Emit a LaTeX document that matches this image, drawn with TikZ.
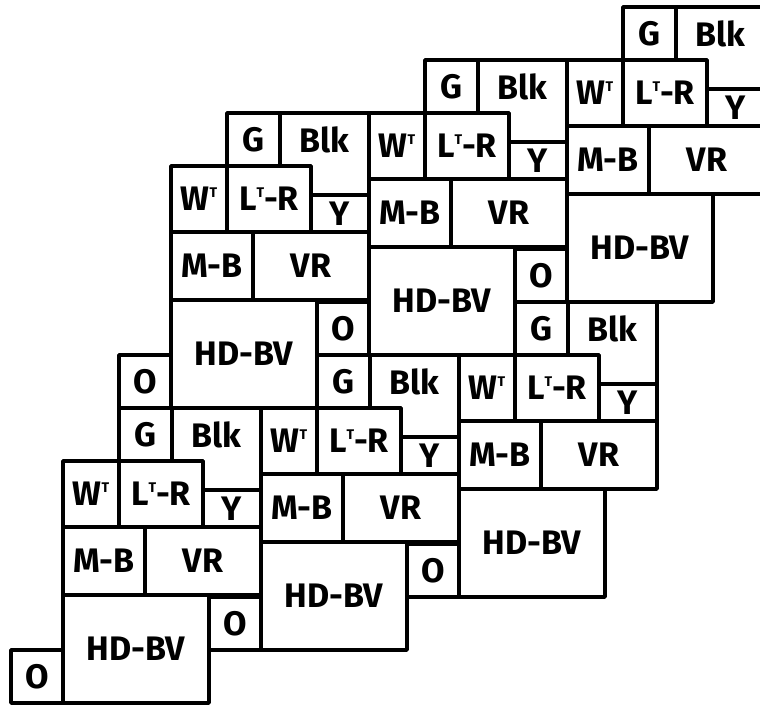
\documentclass[tikz,border=0pt]{standalone}
\usepackage{fontspec}
\setmainfont{Fira Sans}
\newcommand{\tup}{\raisebox{13pt}{\fontsize{14}{14}\selectfont T}}

\begin{document}
\begin{tikzpicture}[x=1pt,y=-1pt,font=\fontsize{34}{36}\selectfont\bfseries,
  cell/.style={draw=black,line width=3.8pt,line join=round},
  lab/.style={inner sep=0pt}]
\useasboundingbox (0,0) rectangle (760,706);
\clip (0,0) rectangle (760,706);
% one block of the pattern, placed at the top-left corner of its W box
\foreach \u/\i/\j in {1/0/0,2/1/0,3/2/0,4/1/1,5/2/1,6/3/1}{
  \begin{scope}[shift={(567-198*\i+90*\j,60+53*\i+242*\j)}]
  \draw[cell] (109,-53) -- (198,-53) -- (198,29) -- (140,29) -- (140,0) -- (109,0) -- cycle;
  \node[lab] (u\u-blk) at (153.5,-26) {Blk};
  \foreach \b/\xa/\ya/\xb/\yb/\tx/\ty/\lab in {
      g/56/-53/109/0/82.5/-26/G,
      w/0/0/56/66/28/33/{W\tup},
      ltr/56/0/140/66/98/33/{L\tup-R},
      y/140/29/198/66/169/47.5/Y,
      mb/0/66/82/134/41/100/M-B,
      vr/82/66/198/134/140/100/VR,
      hdbv/0/134/146/242/73/188/HD-BV,
      o/-52/189/0/242/-26/215.5/O}{
    \draw[cell] (\xa,\ya) rectangle (\xb,\yb);
    \node[lab] (u\u-\b) at (\tx,\ty) {\lab};
  }
  \end{scope}
}
\end{tikzpicture}
\end{document}
